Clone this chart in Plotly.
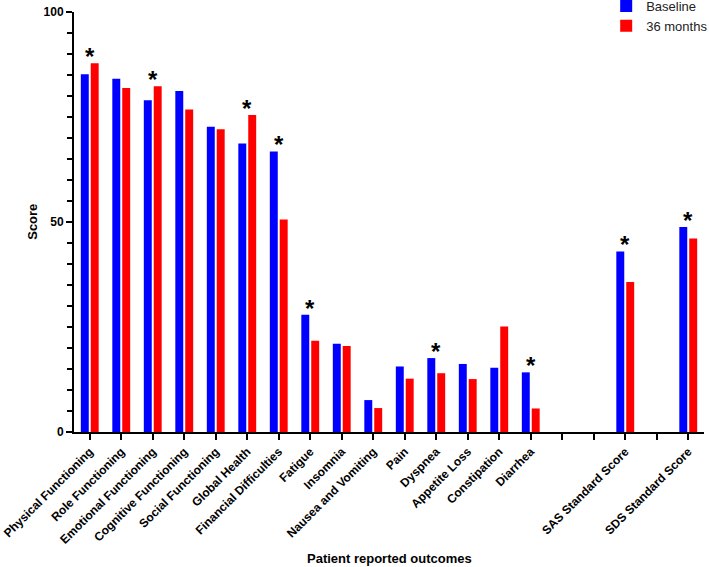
import plotly.graph_objects as go

categories = ["Physical Functioning", "Role Functioning", "Emotional Functioning",
              "Cognitive Functioning", "Social Functioning", "Global Health",
              "Financial Difficulties", "Fatigue", "Insomnia", "Nausea and Vomiting",
              "Pain", "Dyspnea", "Appetite Loss", "Constipation", "Diarrhea",
              "", "", "SAS Standard Score", "", "SDS Standard Score"]
baseline = [85.2, 84.1, 79.0, 81.2, 72.7, 68.7, 66.8, 27.9, 21.0, 7.6,
            15.6, 17.6, 16.2, 15.3, 14.2, None, None, 43.0, None, 48.8]
month36 = [87.8, 81.9, 82.3, 76.8, 72.1, 75.5, 50.6, 21.7, 20.5, 5.7,
           12.7, 14.0, 12.6, 25.1, 5.6, None, None, 35.7, None, 46.1]
significant = ["Physical Functioning", "Emotional Functioning", "Global Health",
               "Financial Difficulties", "Fatigue", "Dyspnea", "Diarrhea",
               "SAS Standard Score", "SDS Standard Score"]
y_ticks = [0, 50, 100]

FONT = "Liberation Sans, Arial, sans-serif"
pos = list(range(len(categories)))

fig = go.Figure()
fig.add_trace(go.Bar(x=pos, y=baseline, name="Baseline",
                     marker=dict(color="#0000FF", line=dict(width=0))))
fig.add_trace(go.Bar(x=pos, y=month36, name="36 months",
                     marker=dict(color="#FF0000", line=dict(width=0))))

for i, c in enumerate(categories):
    if c and c in significant:
        top = max(v for v in (baseline[i], month36[i]) if v is not None)
        fig.add_annotation(x=i, y=top, text="<b>*</b>", showarrow=False,
                           xanchor="center", yanchor="bottom", yshift=-9,
                           font=dict(family=FONT, size=24, color="black"))

# axis titles as annotations for exact placement
fig.add_annotation(xref="paper", yref="paper", x=0.5, y=-0.302,
                   text="<b>Patient reported outcomes</b>", showarrow=False,
                   xanchor="center", yanchor="middle",
                   font=dict(family=FONT, size=13, color="black"))
fig.add_annotation(xref="paper", yref="paper", x=-0.067, y=0.5,
                   text="<b>Score</b>", showarrow=False, textangle=-90,
                   xanchor="center", yanchor="middle",
                   font=dict(family=FONT, size=13, color="black"))

fig.update_layout(
    width=709, height=567,
    margin=dict(l=74, r=5, t=12, b=135, autoexpand=False),
    plot_bgcolor="white", paper_bgcolor="white",
    barmode="group", bargap=0.37, bargroupgap=0.2,
    font=dict(family=FONT, color="black"),
    legend=dict(xref="container", yref="paper", x=0.855, y=1.05,
                xanchor="left", yanchor="top",
                font=dict(family=FONT, size=13, color="#222"),
                bgcolor="rgba(0,0,0,0)", tracegroupgap=0),
    xaxis=dict(range=[-0.5, len(categories) - 0.5],
               tickmode="array", tickvals=pos, ticktext=categories,
               tickangle=-45, showline=True, linecolor="black", linewidth=2,
               ticks="outside", ticklen=6, tickwidth=2, tickcolor="black",
               showgrid=False, zeroline=False, automargin=False,
               tickfont=dict(family=FONT, size=12, color="black", weight="bold")),
    yaxis=dict(range=[0, 100], tickmode="array", tickvals=y_ticks,
               showline=True, linecolor="black", linewidth=2,
               ticks="outside", ticklen=6, tickwidth=2, tickcolor="black",
               minor=dict(dtick=5, ticks="outside", ticklen=5, tickwidth=2,
                          tickcolor="black", showgrid=False),
               showgrid=False, zeroline=False, automargin=False,
               tickfont=dict(family=FONT, size=12, color="black", weight="bold")),
)

fig.write_html("out.html", config={"displayModeBar": False},
               post_script="document.body.style.margin='0';document.body.style.overflow='hidden';")
